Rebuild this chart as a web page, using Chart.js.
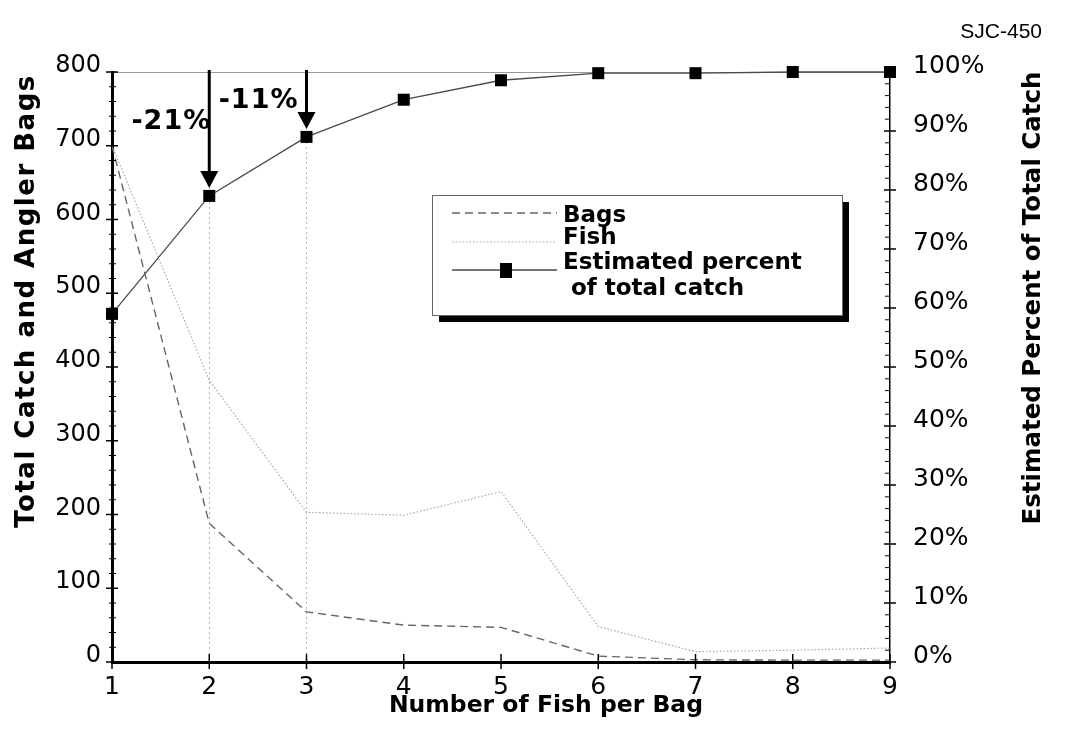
<!DOCTYPE html>
<html>
<head>
<meta charset="utf-8">
<script src="https://cdn.jsdelivr.net/npm/chart.js@4.4.0/dist/chart.umd.min.js"></script>
<style>
  html, body { margin: 0; padding: 0; background: #fff; }
  #wrap { position: relative; width: 1065px; height: 730px; }
  #code { position: absolute; right: 23px; top: 19px; font: 21px "Liberation Sans", Arial, sans-serif; color: #000; }
</style>
</head>
<body>
<div id="wrap">
  <canvas id="fishChart" width="1065" height="730"></canvas>
  <div id="code">SJC-450</div>
</div>
<script>
// Data
const fishPerBag = [1, 2, 3, 4, 5, 6, 7, 8, 9];
const bagCounts = [700, 188, 68, 50, 47, 8, 3, 2.5, 2.5];
const fishCounts = [700, 382, 203, 199, 231, 48, 14, 16, 19];
const pctOfCatch = [59, 79, 89, 95.3, 98.6, 99.8, 99.8, 100, 100];
const leftTicks = [0, 100, 200, 300, 400, 500, 600, 700, 800];
const rightTicks = [0, 10, 20, 30, 40, 50, 60, 70, 80, 90, 100];
const cutLabels = ['-21%', '-11%'];
const cutAt = [2, 3];
const legendLabels = ['Bags', 'Fish', 'Estimated percent', ' of total catch'];
const axisTitleText = {
    x: 'Number of Fish per Bag',
    left: 'Total Catch and Angler Bags',
    right: 'Estimated Percent of Total Catch'
};

const FONT = '"DejaVu Sans", "Open Sans", sans-serif';

// Minor/major ticks that cross the axis lines
const axisTicks = {
    id: 'axisTicks',
    afterDraw(chart) {
        const { ctx, chartArea: a, scales: { x, y, y1 } } = chart;
        ctx.save();
        ctx.strokeStyle = '#000';
        const seg = (x0, y0, x1, y1_) => {
            ctx.beginPath(); ctx.moveTo(x0, y0); ctx.lineTo(x1, y1_); ctx.stroke();
        };
        for (let v = 0; v <= 800; v += 20) {
            const py = y.getPixelForValue(v);
            const major = leftTicks.includes(v);
            ctx.lineWidth = major ? 1.5 : 1;
            seg(a.left - (major ? 6 : 3), py, a.left + (major ? 6 : 4), py);
        }
        for (let v = 0; v <= 100; v += 2) {
            const py = y1.getPixelForValue(v);
            const major = rightTicks.includes(v);
            ctx.lineWidth = major ? 1.5 : 1;
            seg(a.right - (major ? 6 : 5), py, a.right + (major ? 6 : 0), py);
        }
        fishPerBag.forEach(v => {
            const px = x.getPixelForValue(v);
            ctx.lineWidth = 1.5;
            seg(px, a.bottom - 8, px, a.bottom + 7);
        });
        ctx.restore();
    }
};

// Axis titles (placed like the original, not centred on the axes)
const axisTitles = {
    id: 'axisTitles',
    afterDraw(chart) {
        const { ctx } = chart;
        ctx.save();
        ctx.fillStyle = '#000';
        ctx.textAlign = 'center';
        ctx.textBaseline = 'alphabetic';

        ctx.font = 'bold 23.5px ' + FONT;
        ctx.fillText(axisTitleText.x, 546, 712);

        ctx.save();
        ctx.font = 'bold 26px ' + FONT;
        ctx.letterSpacing = '1.5px';
        ctx.translate(34, 301);
        ctx.rotate(-Math.PI / 2);
        ctx.fillText(axisTitleText.left, 0, 0);
        ctx.restore();

        ctx.save();
        ctx.font = 'bold 24.5px ' + FONT;
        ctx.translate(1040, 298);
        ctx.rotate(-Math.PI / 2);
        ctx.fillText(axisTitleText.right, 0, 0);
        ctx.restore();

        ctx.restore();
    }
};

// Arrows with the percent drops
const cutArrows = {
    id: 'cutArrows',
    afterDatasetsDraw(chart) {
        const { ctx, chartArea: a, scales: { x, y1 } } = chart;
        ctx.save();
        ctx.fillStyle = '#000';
        ctx.strokeStyle = '#000';
        cutAt.forEach((v, i) => {
            const px = x.getPixelForValue(v);
            const tip = y1.getPixelForValue(pctOfCatch[fishPerBag.indexOf(v)]) - 8;
            ctx.lineWidth = 3;
            ctx.beginPath(); ctx.moveTo(px, a.top - 2); ctx.lineTo(px, tip - 12); ctx.stroke();
            ctx.beginPath();
            ctx.moveTo(px - 9, tip - 17); ctx.lineTo(px + 9, tip - 17); ctx.lineTo(px, tip);
            ctx.closePath(); ctx.fill();
            ctx.font = 'bold 27px ' + FONT;
            ctx.letterSpacing = '1px';
            ctx.textAlign = 'right';
            ctx.textBaseline = 'middle';
            ctx.fillText(cutLabels[i], px + (i === 0 ? 2 : -8), i === 0 ? 122 : 101);
        });
        ctx.restore();
    }
};

// Boxed legend with drop shadow
const boxLegend = {
    id: 'boxLegend',
    afterDraw(chart) {
        const { ctx } = chart;
        const bx = 432, by = 195, bw = 410, bh = 120;
        ctx.save();
        ctx.fillStyle = '#000';
        ctx.fillRect(bx + 7, by + 7, bw, bh);
        ctx.fillStyle = '#fff';
        ctx.fillRect(bx, by, bw, bh);
        ctx.strokeStyle = '#666';
        ctx.lineWidth = 1;
        ctx.strokeRect(bx + 0.5, by + 0.5, bw, bh);

        const ds = chart.data.datasets;
        const rows = [213, 242, 270];
        rows.forEach((ry, i) => {
            ctx.strokeStyle = ds[i].borderColor;
            ctx.lineWidth = ds[i].borderWidth;
            ctx.setLineDash(ds[i].borderDash || []);
            ctx.beginPath(); ctx.moveTo(452, ry); ctx.lineTo(557, ry); ctx.stroke();
        });
        ctx.setLineDash([]);
        ctx.fillStyle = '#000';
        ctx.fillRect(500, 263, 12, 15);

        ctx.font = 'bold 23px ' + FONT;
        ctx.textAlign = 'left';
        ctx.textBaseline = 'alphabetic';
        ctx.fillText(legendLabels[0], 563, 222);
        ctx.fillText(legendLabels[1], 563, 244);
        ctx.fillText(legendLabels[2], 563, 269);
        ctx.fillText(legendLabels[3], 563, 295);
        ctx.restore();
    }
};

new Chart(document.getElementById('fishChart'), {
    type: 'line',
    data: {
        datasets: [
            {
                label: 'Bags',
                data: fishPerBag.map((f, i) => ({ x: f, y: bagCounts[i] })),
                yAxisID: 'y',
                borderColor: '#666',
                borderWidth: 1.4,
                borderDash: [8, 5],
                pointRadius: 0,
                tension: 0
            },
            {
                label: 'Fish',
                data: fishPerBag.map((f, i) => ({ x: f, y: fishCounts[i] })),
                yAxisID: 'y',
                borderColor: '#aaa',
                borderWidth: 1.2,
                borderDash: [1.5, 2],
                pointRadius: 0,
                tension: 0
            },
            {
                label: 'Estimated percent of total catch',
                data: fishPerBag.map((f, i) => ({ x: f, y: pctOfCatch[i] })),
                yAxisID: 'y1',
                borderColor: '#4a4a4a',
                borderWidth: 1.3,
                pointStyle: 'rect',
                pointRadius: 8.5,
                pointBackgroundColor: '#000',
                pointBorderColor: '#000',
                pointBorderWidth: 0,
                clip: false,
                tension: 0
            }
        ]
    },
    options: {
        responsive: false,
        animation: false,
        devicePixelRatio: 1,
        layout: { padding: { top: 72, left: 0, right: 0, bottom: 0 } },
        plugins: { legend: { display: false }, tooltip: { enabled: false } },
        scales: {
            x: {
                type: 'linear',
                min: 1, max: 9,
                afterFit: s => { s.height = 68; },
                ticks: { stepSize: 1, color: '#000', font: { family: FONT, size: 25 }, padding: 4 },
                grid: {
                    color: c => cutAt.includes(c.tick && c.tick.value) ? '#b5b5b5' : 'transparent',
                    lineWidth: 1,
                    tickLength: 6,
                    tickColor: 'transparent'
                },
                border: { display: true, color: '#000', width: 3, dash: [2, 3] },
                title: { display: false }
            },
            y: {
                position: 'left',
                min: 0, max: 800,
                afterFit: s => { s.width = 112; },
                afterBuildTicks: s => { s.ticks = leftTicks.map(v => ({ value: v })); },
                ticks: { color: '#000', font: { family: FONT, size: 24 }, padding: 5, labelOffset: -6 },
                grid: {
                    color: c => (c.tick && c.tick.value === 800) ? '#999' : 'transparent',
                    tickLength: 6,
                    tickColor: 'transparent'
                },
                border: { display: true, color: '#000', width: 3 },
                title: { display: false }
            },
            y1: {
                position: 'right',
                min: 0, max: 100,
                afterFit: s => { s.width = 175; },
                afterBuildTicks: s => { s.ticks = rightTicks.map(v => ({ value: v })); },
                ticks: {
                    color: '#000', font: { family: FONT, size: 25 }, padding: 17, labelOffset: -6,
                    callback: v => v + '%'
                },
                grid: { drawOnChartArea: false, tickLength: 6, tickColor: 'transparent' },
                border: { display: true, color: '#000', width: 1.5 },
                title: { display: false }
            }
        }
    },
    plugins: [axisTicks, axisTitles, cutArrows, boxLegend]
});
</script>
</body>
</html>
